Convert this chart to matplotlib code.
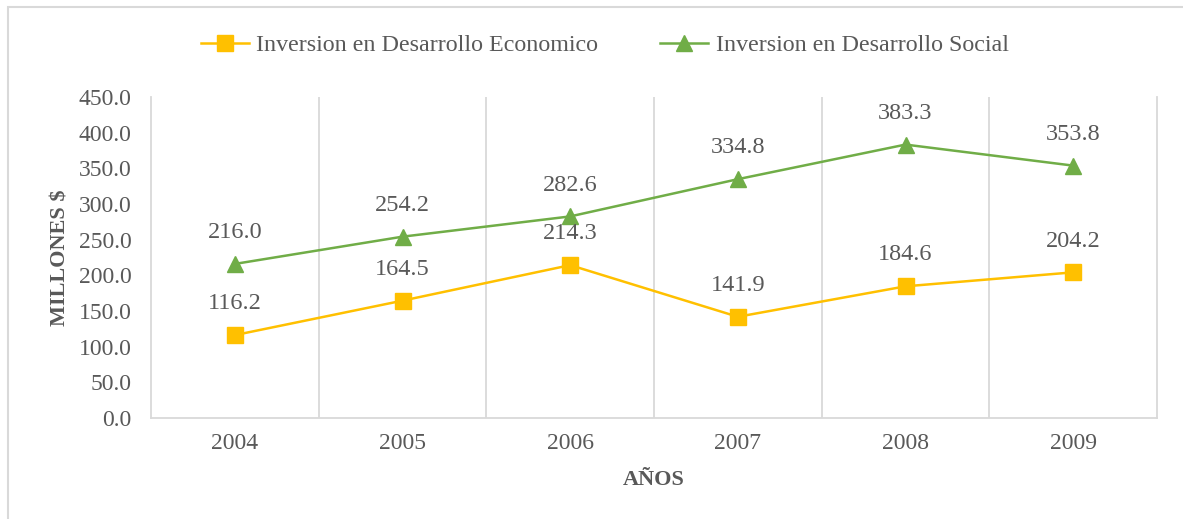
import matplotlib.pyplot as plt
from matplotlib.patches import Rectangle

# datos
anios = ["2004", "2005", "2006", "2007", "2008", "2009"]
economico = [116.2, 164.5, 214.3, 141.9, 184.6, 204.2]
social = [216.0, 254.2, 282.6, 334.8, 383.3, 353.8]

plt.rcParams['font.family'] = ['Liberation Serif', 'DejaVu Serif']
gris = '#595959'
linea = '#d9d9d9'

fig = plt.figure(figsize=(11.83, 5.19), dpi=100)
ax = fig.add_axes([151 / 1183, 1 - 418 / 519, (1157 - 151) / 1183, (418 - 97) / 519])

x = list(range(len(anios)))
ax.plot(x, economico, color='#FFC000', lw=1.8, marker='s', ms=11,
        label='Inversion en Desarrollo Economico')
ax.plot(x, social, color='#70AD47', lw=1.8, marker='^', ms=12,
        label='Inversion en Desarrollo Social')

# etiquetas de datos
for i in x:
    ax.annotate("%.1f" % economico[i], (i, economico[i]), xytext=(0, 15),
                textcoords='offset points', ha='center', va='bottom',
                fontsize=17.5, color=gris)
    ax.annotate("%.1f" % social[i], (i, social[i]), xytext=(0, 15),
                textcoords='offset points', ha='center', va='bottom',
                fontsize=17.5, color=gris)

ax.set_xlim(-0.5, len(anios) - 0.5)
ax.set_ylim(0, 450)
ax.set_yticks(range(0, 451, 50))
ax.set_yticklabels(["%.1f" % v for v in range(0, 451, 50)])
ax.set_xticks(x)
ax.set_xticklabels(anios)

# rejilla vertical entre categorias
for b in range(1, len(anios)):
    ax.axvline(b - 0.5, color=linea, lw=1.3, zorder=0)

ax.spines['top'].set_visible(False)
for s in ['left', 'right', 'bottom']:
    ax.spines[s].set_color(linea)
    ax.spines[s].set_linewidth(1.3)

ax.tick_params(axis='both', length=0, colors=gris, labelsize=17)
ax.tick_params(axis='x', pad=11)
ax.tick_params(axis='y', pad=14)

ax.set_xlabel('AÑOS', fontsize=16, fontweight='bold', color=gris, labelpad=11)
ax.set_ylabel('MILLONES $', fontsize=16, fontweight='bold', color=gris, labelpad=6)

fig.legend(loc='center', bbox_to_anchor=(0.5 + 13 / 1183, 1 - 45 / 519), ncol=2,
           frameon=False, fontsize=17.3, labelcolor=gris, handlelength=2.0,
           columnspacing=2.6, handletextpad=0.3)

# borde del grafico
fig.patches.append(Rectangle((8 / 1183, -0.01), 1.0, 1 - 7 / 519 + 0.01,
                             transform=fig.transFigure, fill=False,
                             edgecolor=linea, lw=1.5))

fig.savefig('out.png', dpi=100)
